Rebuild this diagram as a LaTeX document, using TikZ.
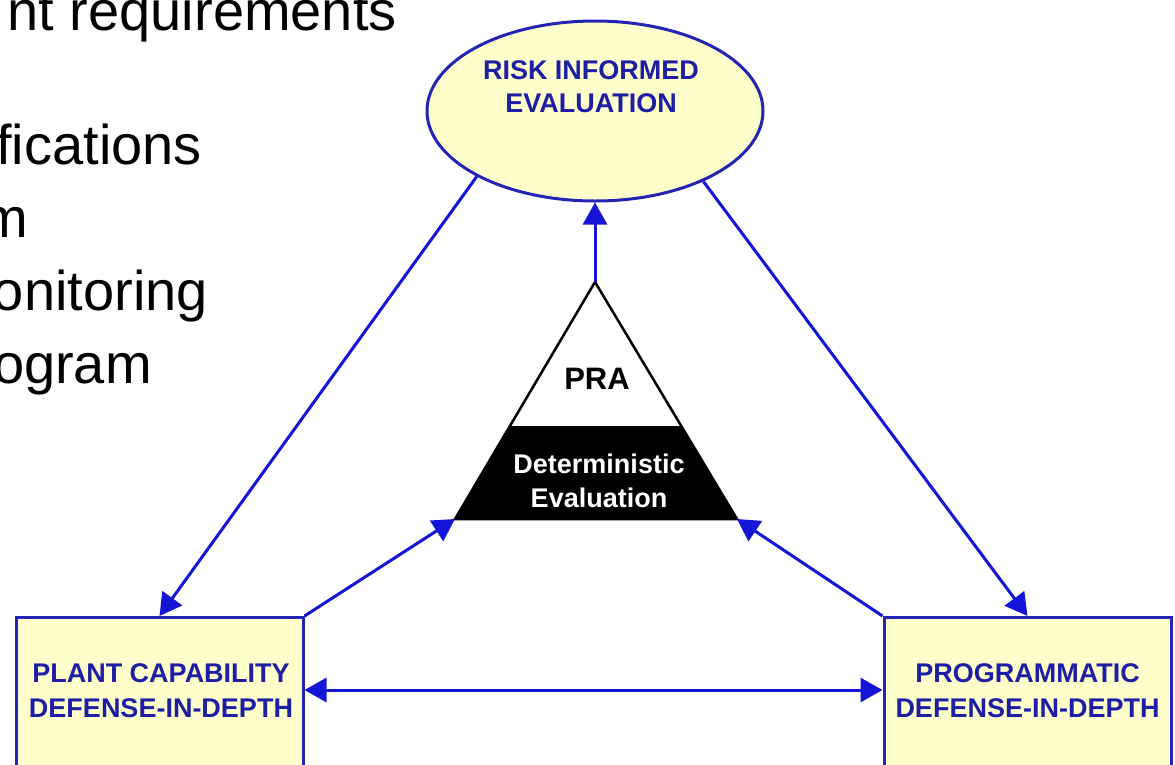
\documentclass[tikz,border=0pt]{standalone}
\usepackage{fontspec}
\setmainfont{Liberation Sans}
\usetikzlibrary{shapes.geometric,arrows.meta}
\definecolor{lineblue}{RGB}{20,20,215}
\definecolor{edgeblue}{RGB}{35,35,180}
\definecolor{textblue}{RGB}{30,30,165}
\definecolor{paleyellow}{RGB}{255,255,204}
\begin{document}
\begin{tikzpicture}[x=1pt,y=-1pt,
  conn/.style={draw=lineblue, line width=3pt, -{Triangle[length=22pt,width=24pt]}},
  biconn/.style={draw=lineblue, line width=3pt, {Triangle[length=22pt,width=24pt]}-{Triangle[length=22pt,width=24pt]}},
  lbl/.style={text=textblue, font=\fontsize{27}{33}\selectfont\bfseries, align=center, inner sep=0},
  boxlbl/.style={text=textblue, font=\fontsize{27}{35}\selectfont\bfseries, align=center, inner sep=0},
  yellowbox/.style={draw=edgeblue, line width=3pt, fill=paleyellow, minimum width=287pt, minimum height=200pt, inner sep=0, anchor=north},
  bodytxt/.style={font=\fontsize{56}{67}\selectfont, anchor=base east, inner sep=0}
]
\useasboundingbox (0,0) rectangle (1175,764);
\clip (0,0) rectangle (1175,764);
\fill[white] (0,0) rectangle (1175,764);

% left slide text (cut off by the picture edge)
\node[bodytxt] (t1) at (397,30) {nt requirements};
\node[bodytxt] (t2) at (202,164) {fications};
\node[bodytxt] (t3) at (28,237) {m};
\node[bodytxt] (t4) at (208,310) {onitoring};
\node[bodytxt] (t5) at (152,383) {ogram};

% ellipse
\node[ellipse, draw=edgeblue, line width=3pt, fill=paleyellow, minimum width=336pt, minimum height=180pt, inner sep=0] (ell) at (595,111) {};
\node[lbl, anchor=base] (risk) at (591,112) {RISK INFORMED\\EVALUATION};

% boxes
\node[yellowbox] (lbox) at (159.5,616) {};
\node[boxlbl, anchor=base] (ltxt) at (161,717) {PLANT CAPABILITY\\DEFENSE-IN-DEPTH};
\node[yellowbox] (rbox) at (1027.5,616) {};
\node[boxlbl, anchor=base] (rtxt) at (1027.5,717) {PROGRAMMATIC\\DEFENSE-IN-DEPTH};

% triangle
\coordinate (apex) at (595,282);
\coordinate (bl) at (455,519);
\coordinate (br) at (737,519);
\coordinate (b1) at (510,426);
\coordinate (b2) at (681,426);
\fill[black] (b1) -- (b2) -- (br) -- (bl) -- cycle;
\draw[black, line width=2.5pt, line join=miter] (apex) -- (br) -- (bl) -- cycle;
\node[font=\fontsize{31}{31}\selectfont\bfseries, anchor=base, inner sep=0] (pra) at (597,389) {PRA};
\node[text=white, font=\fontsize{27}{34}\selectfont\bfseries, align=center, anchor=base, inner sep=0] (det) at (599,507) {Deterministic\\Evaluation};

% connectors
\draw[conn] (apex) -- (ell.south);
\draw[conn] (ell.209) -- (lbox.north);
\draw[conn] (ell.327) -- (rbox.north);
\draw[conn] (lbox.north east) -- (bl);
\draw[conn] (rbox.north west) -- (br);
\coordinate (hy) at (0,690);
\draw[biconn] (lbox.east |- hy) -- (rbox.west |- hy);
\end{tikzpicture}
\end{document}
